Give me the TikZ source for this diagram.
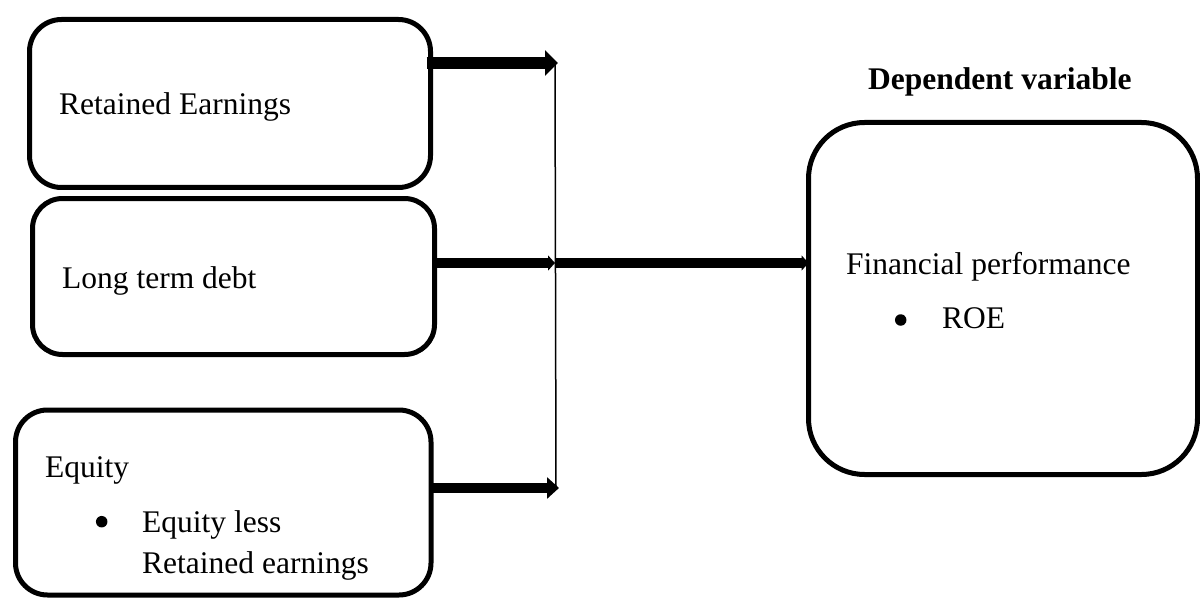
\documentclass[tikz,border=0pt]{standalone}
\usepackage{fontspec}
\setmainfont{Liberation Serif}
\usetikzlibrary{arrows.meta}
\begin{document}
\begin{tikzpicture}[x=1pt,y=-1pt,
  boxst/.style={draw, line width=5pt, inner sep=0pt, outer sep=0pt},
  txt/.style={anchor=base west, inner sep=0pt, font=\fontsize{31.5}{38}\selectfont},
  dot/.style={circle, fill, inner sep=0pt, minimum size=11.5pt},
  bigarr/.style={line width=12pt, -{Triangle[length=13pt,width=25pt]}},
  midarr/.style={line width=10pt, -{Triangle[length=7pt,width=15pt]}},
  botarr/.style={line width=10pt, -{Triangle[length=12pt,width=21pt]}},
  vline/.style={line width=1.5pt}]
\useasboundingbox (0,0) rectangle (1200,599);
% boxes
\node[boxst, rounded corners=32pt, minimum width=401pt, minimum height=168pt] (b1) at (230,103.5) {};
\node[boxst, rounded corners=30pt, minimum width=402pt, minimum height=156pt] (b2) at (233.5,276.5) {};
\node[boxst, rounded corners=32pt, minimum width=415.5pt, minimum height=185pt] (b3) at (223.25,502.5) {};
\node[boxst, rounded corners=56pt, minimum width=389pt, minimum height=352pt] (fp) at (1003,298.5) {};
% texts
\node[txt] (t1) at (59,115) {Retained Earnings};
\node[txt] (t2) at (62,288) {Long term debt};
\node[txt] (t3) at (45,477) {Equity};
\node[dot] (t3b) at (101.7,521.7) {};
\node[txt] (t3c) at (142,532) {Equity less};
\node[txt] (t3d) at (142,573) {Retained earnings};
\node[txt, font=\fontsize{31.5}{38}\selectfont\bfseries] (dv) at (868,90) {Dependent variable};
\node[txt] (t4) at (846,274) {Financial performance};
\node[dot] (t4b) at (900.7,320) {};
\node[txt] (t4c) at (942,328) {ROE};
% connector points
\coordinate (v1) at (555,63);
\coordinate (v2) at (555,263);
\coordinate (v3) at (556,488);
\draw[vline] (v1) -- (v3);
\draw[bigarr] ([xshift=-4pt]b1.east |- v1) -- ([xshift=3pt]v1);
\draw[midarr] (b2.east |- v2) -- (v2);
\draw[midarr] (v2) -- (fp.west |- v2);
\draw[botarr] (b3.east |- v3) -- ([xshift=3pt]v3);
\end{tikzpicture}
\end{document}
